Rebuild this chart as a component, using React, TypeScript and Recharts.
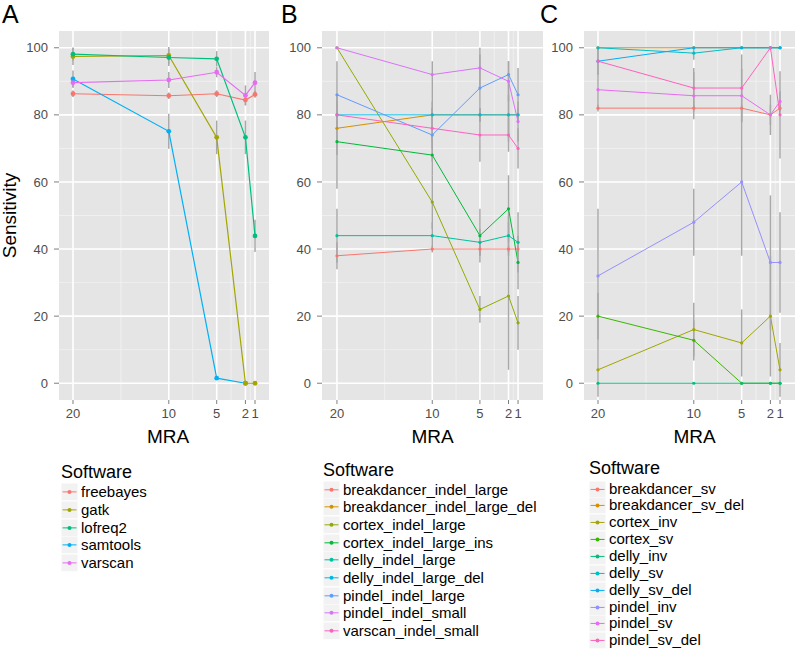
import React from 'react';
import { LineChart, Line, XAxis, YAxis, CartesianGrid, ErrorBar } from 'recharts';

const mraValues = [20, 10, 5, 2, 1];
const yTicks = [0, 20, 40, 60, 80, 100];
const yMinor = [10, 30, 50, 70, 90];
const xMinor = [15, 7.5, 3.5, 1.5];

// Panel A
const seriesA = ['freebayes', 'gatk', 'lofreq2', 'samtools', 'varscan'];
const colorsA = ['#F8766D', '#A3A500', '#00BF7D', '#00B0F6', '#E76BF3'];
const valuesA: (number | null)[][] = [
  [86.3, 85.7, 86.3, 84.4, 86.1],
  [97.4, 97.7, 73.3, 0, 0],
  [98.1, 97.1, 96.7, 73.3, 43.9],
  [90.7, 75.1, 1.5, 0, null],
  [89.6, 90.4, 92.7, 85.8, 89.6],
];
const errorsA = [
  [1, 1, 1, 1.5, 1],
  [2.5, 2.5, 5, 0, 0],
  [2, 2.5, 2.3, 5, 4.8],
  [2.5, 5.2, 0.5, 0, 0],
  [1.5, 2.4, 1.5, 3, 3.2],
];
const drawOrderA = [0, 3, 1, 2, 4];

// Panel B
const seriesB = [
  'breakdancer_indel_large', 'breakdancer_indel_large_del', 'cortex_indel_large',
  'cortex_indel_large_ins', 'delly_indel_large', 'delly_indel_large_del',
  'pindel_indel_large', 'pindel_indel_small', 'varscan_indel_small',
];
const colorsB = ['#F8766D', '#D39200', '#93AA00', '#00BA38', '#00C19F', '#00B9E3', '#619CFF', '#DB72FB', '#FF61C3'];
const valuesB: (number | null)[][] = [
  [38, 40, 40, 40, 40],
  [76, 80, 80, 80, 80],
  [100, 54, 22, 26, 18],
  [72, 68, 44, 52, 36],
  [44, 44, 42, 44, 42],
  [80, 80, 80, 80, 80],
  [86, 74, 88, 92, 86],
  [100, 92, 94, 90, 78],
  [80, 76, 74, 74, 70],
];
const errorsB = [
  [4, 1, 2, 1, 1],
  [8, 8, 2, 8, 2],
  [0, 8, 4, 22, 8],
  [14, 6, 8, 10, 8],
  [8, 4, 4, 6, 9],
  [4, 4, 2, 6, 2],
  [10, 8, 10, 4, 8],
  [0, 4, 6, 6, 6],
  [4, 6, 8, 5, 6],
];
const drawOrderB = [0, 1, 2, 3, 4, 5, 6, 7, 8];

// Panel C
const seriesC = [
  'breakdancer_sv', 'breakdancer_sv_del', 'cortex_inv', 'cortex_sv', 'delly_inv',
  'delly_sv', 'delly_sv_del', 'pindel_inv', 'pindel_sv', 'pindel_sv_del',
];
const colorsC = ['#F8766D', '#D89000', '#A3A500', '#39B600', '#00BF7D', '#00BFC4', '#00B0F6', '#9590FF', '#E76BF3', '#FF62BC'];
const valuesC: (number | null)[][] = [
  [82, 82, 82, 80, 82],
  [100, 100, 100, 100, 100],
  [4, 16, 12, 20, 4],
  [20, 12.8, 0, 0, 0],
  [0, 0, 0, 0, 0],
  [100, 98.4, 100, 100, 100],
  [96, 100, 100, 100, 100],
  [32, 48, 60, 36, 36],
  [87.5, 85.7, 85.7, 80, 84],
  [96, 88, 88, 100, 80],
];
const errorsC = [
  [1, 1, 1, 3, 1],
  [0, 0, 0, 0, 0],
  [8, 8, 10, 18, 8],
  [7, 6, 0, 0, 0],
  [0, 0, 0, 0, 0],
  [0, 2, 0, 0, 0],
  [4, 0, 0, 0, 0],
  [20, 10, 22, 20, 15],
  [5, 7, 8, 6, 3],
  [4, 6, 10, 0, 13],
];
const drawOrderC = [0, 1, 2, 3, 4, 5, 6, 7, 8, 9];

function buildRows(series: string[], values: (number | null)[][], errors: number[][]) {
  return mraValues.map((m, i) => {
    const row: Record<string, number | null> = { mra: m };
    series.forEach((s, j) => {
      row[s] = values[j][i];
      row[s + '_e'] = values[j][i] === null ? null : errors[j][i];
    });
    return row;
  });
}

const FONT = '"Liberation Sans", Arial, Helvetica, sans-serif';
const CH = 460;

type PanelProps = {
  left: number;
  width: number;
  yAxisWidth: number;
  domain: [number, number];
  series: string[];
  colors: string[];
  order: number[];
  data: Record<string, number | null>[];
  dotR: number;
  lineW: number;
  mraDx: number;
  showYLabel?: boolean;
};

function Panel(p: PanelProps) {
  return (
    <div style={{ position: 'absolute', left: p.left, top: 0 }}>
      <LineChart width={p.width} height={CH} data={p.data} margin={{ top: 31, right: 1, bottom: 15, left: 0 }}>
        <CartesianGrid
          fill="#E5E5E5"
          fillOpacity={1}
          stroke="#F2F2F2"
          strokeWidth={0.8}
          horizontalValues={yMinor}
          verticalValues={xMinor}
        />
        <CartesianGrid stroke="#FFFFFF" strokeWidth={1.6} horizontalValues={yTicks} verticalValues={mraValues} />
        <XAxis
          type="number"
          dataKey="mra"
          domain={p.domain}
          reversed
          allowDataOverflow
          ticks={mraValues}
          interval={0}
          tickSize={4}
          tickMargin={5}
          axisLine={false}
          tickLine={{ stroke: '#7F7F7F' }}
          height={45}
          tick={{ fill: '#4D4D4D', fontSize: 13 }}
          label={{ value: 'MRA', position: 'insideBottom', offset: 2, dx: p.mraDx, fontSize: 19, fill: '#000' }}
        />
        <YAxis
          type="number"
          domain={[-5, 105]}
          allowDataOverflow
          ticks={yTicks}
          interval={0}
          width={p.yAxisWidth}
          tickSize={5}
          tickMargin={6}
          axisLine={false}
          tickLine={{ stroke: '#7F7F7F' }}
          tick={{ fill: '#4D4D4D', fontSize: 13 }}
          label={
            p.showYLabel
              ? { value: 'Sensitivity', angle: -90, position: 'insideLeft', offset: 9, fontSize: 19, fill: '#000', style: { textAnchor: 'middle' } }
              : undefined
          }
        />
        {p.order.map((j) => {
          const s = p.series[j];
          return (
            <Line
              key={s}
              type="linear"
              dataKey={s}
              stroke={p.colors[j]}
              strokeWidth={p.lineW}
              dot={{ r: p.dotR, fill: p.colors[j], stroke: 'none' }}
              activeDot={false}
              isAnimationActive={false}
            >
              <ErrorBar dataKey={s + '_e'} width={0} stroke="#A8A8A8" strokeWidth={1.5} direction="y" />
            </Line>
          );
        })}
      </LineChart>
    </div>
  );
}

type LegendProps = { x: number; titleY: number; firstY: number; step: number; series: string[]; colors: string[] };

function LegendBlock(p: LegendProps) {
  return (
    <div style={{ position: 'absolute', left: p.x, top: 0 }}>
      <div style={{ position: 'absolute', left: 0, top: p.titleY - 11, lineHeight: '22px', fontSize: 18, whiteSpace: 'nowrap' }}>
        Software
      </div>
      {p.series.map((s, i) => (
        <div
          key={s}
          style={{
            position: 'absolute',
            left: 0,
            top: p.firstY + i * p.step - p.step / 2,
            height: p.step,
            display: 'flex',
            alignItems: 'center',
            whiteSpace: 'nowrap',
          }}
        >
          <svg width={17} height={p.step} style={{ display: 'block' }}>
            <rect x={0.5} y={0.5} width={16} height={p.step - 1} fill="#F2F2F2" />
            <line x1={1.5} x2={15.5} y1={p.step / 2} y2={p.step / 2} stroke={p.colors[i]} strokeWidth={1} />
            <circle cx={8.5} cy={p.step / 2} r={2} fill={p.colors[i]} />
          </svg>
          <span style={{ marginLeft: 3, fontSize: 15, lineHeight: `${p.step}px` }}>{s}</span>
        </div>
      ))}
    </div>
  );
}

const letterStyle: React.CSSProperties = { position: 'absolute', top: 0, fontSize: 25, lineHeight: '28px', color: '#000' };

export default function App() {
  const dataA = buildRows(seriesA, valuesA, errorsA);
  const dataB = buildRows(seriesB, valuesB, errorsB);
  const dataC = buildRows(seriesC, valuesC, errorsC);
  return (
    <div
      style={{
        position: 'absolute',
        left: 0,
        top: 0,
        width: 795,
        height: 649,
        overflow: 'hidden',
        background: '#fff',
        fontFamily: FONT,
      }}
    >
      <Panel left={0} width={270} yAxisWidth={59} domain={[-0.46, 21.46]} series={seriesA} colors={colorsA} order={drawOrderA} data={dataA} dotR={2.4} lineW={1.2} mraDx={4} showYLabel />
      <Panel left={270} width={274} yAxisWidth={52} domain={[-1.62, 21.57]} series={seriesB} colors={colorsB} order={drawOrderB} data={dataB} dotR={1.6} lineW={1} mraDx={0} />
      <Panel left={544} width={262} yAxisWidth={40} domain={[-1.61, 21.46]} series={seriesC} colors={colorsC} order={drawOrderC} data={dataC} dotR={1.6} lineW={1} mraDx={0} />
      <div style={{ ...letterStyle, left: 2 }}>A</div>
      <div style={{ ...letterStyle, left: 281 }}>B</div>
      <div style={{ ...letterStyle, left: 540 }}>C</div>
      <LegendBlock x={61} titleY={472} firstY={492} step={17.75} series={seriesA} colors={colorsA} />
      <LegendBlock x={323} titleY={470} firstY={489.6} step={17.65} series={seriesB} colors={colorsB} />
      <LegendBlock x={589} titleY={468} firstY={489} step={16.85} series={seriesC} colors={colorsC} />
    </div>
  );
}
